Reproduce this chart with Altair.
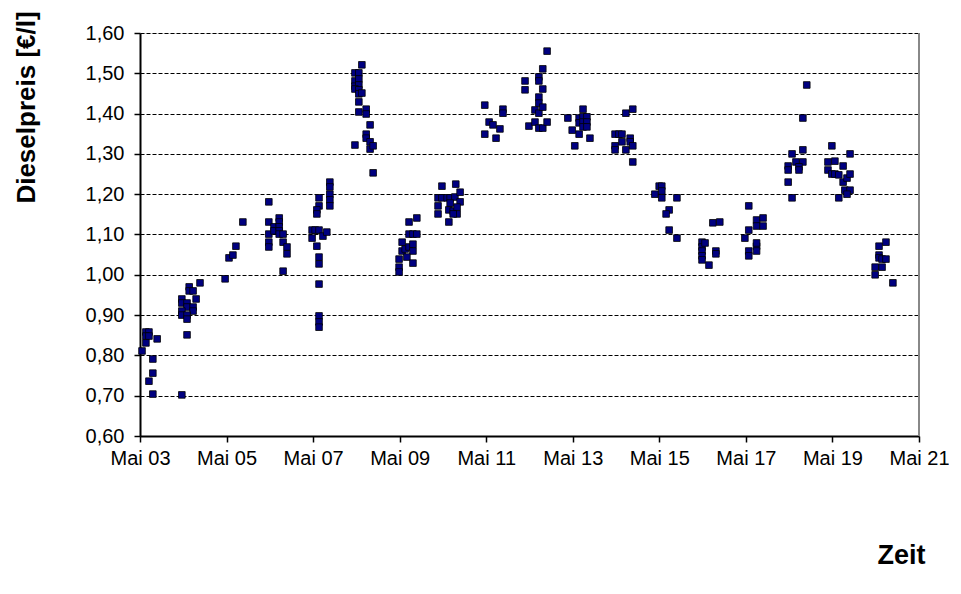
import altair as alt
import pandas as pd

# decimal year of each observation and its diesel price in EUR/l
year = [
    2003.38, 2003.47, 2003.54, 2003.47, 2003.54, 2003.73, 2003.47, 2003.63, 2003.63, 2003.54, 2003.63,
    2004.30, 2004.42, 2004.30, 2004.30, 2004.42, 2004.42, 2004.63, 2004.56, 2004.56, 2004.30, 2004.30,
    2004.42, 2004.42, 2004.47, 2004.47, 2004.56, 2004.72,
    2005.30, 2005.39, 2005.48, 2005.55, 2005.71,
    2006.31, 2006.31, 2006.31, 2006.31, 2006.31, 2006.43, 2006.43, 2006.55, 2006.55, 2006.55, 2006.55,
    2006.55, 2006.64, 2006.64, 2006.73, 2006.73, 2006.64,
    2007.47, 2007.47, 2007.42, 2007.42, 2007.31, 2007.38, 2007.47, 2007.31, 2007.56, 2007.65, 2007.42,
    2007.47, 2007.47, 2007.47, 2007.47, 2007.47, 2007.47, 2007.72, 2007.72, 2007.72, 2007.72, 2007.72,
    2008.46, 2008.30, 2008.39, 2008.30, 2008.39, 2008.30, 2008.39, 2008.30, 2008.39, 2008.39, 2008.46,
    2008.39, 2008.39, 2008.56, 2008.56, 2008.65, 2008.56, 2008.56, 2008.30, 2008.65, 2008.65, 2008.72,
    2008.72,
    2009.55, 2009.73, 2009.55, 2009.64, 2009.73, 2009.39, 2009.39, 2009.46, 2009.55, 2009.64, 2009.64,
    2009.50, 2009.32, 2009.64, 2009.32, 2009.32,
    2010.31, 2010.63, 2010.22, 2010.31, 2010.43, 2010.22, 2010.22, 2010.50, 2010.61, 2010.73, 2010.50,
    2010.73, 2010.47, 2010.57, 2010.66, 2010.66, 2010.57, 2010.47,
    2011.30, 2011.40, 2011.49, 2011.30, 2011.56, 2011.65, 2011.72, 2011.72,
    2012.23, 2012.23, 2012.32, 2012.55, 2012.55, 2012.64, 2012.74, 2012.64, 2012.55, 2012.55, 2012.46,
    2012.55, 2012.64, 2012.46, 2012.55, 2012.64, 2012.74,
    2013.22, 2013.32, 2013.38, 2013.48, 2013.48, 2013.48, 2013.57, 2013.57, 2013.66, 2013.57, 2013.66,
    2013.57, 2013.66, 2013.73,
    2014.31, 2014.40, 2014.47, 2014.31, 2014.31, 2014.47, 2014.56, 2014.66, 2014.66, 2014.72, 2014.56,
    2014.72, 2014.72,
    2015.33, 2015.39, 2015.39, 2015.23, 2015.39, 2015.74, 2015.56, 2015.49, 2015.56, 2015.74,
    2016.32, 2016.32, 2016.32, 2016.32, 2016.32, 2016.39, 2016.48, 2016.57, 2016.73, 2016.64, 2016.64,
    2017.40, 2017.58, 2017.58, 2017.40, 2017.31, 2017.40, 2017.40, 2017.58, 2017.58, 2017.73, 2017.73,
    2017.58,
    2018.74, 2018.65, 2018.65, 2018.40, 2018.31, 2018.31, 2018.49, 2018.65, 2018.56, 2018.56, 2018.31,
    2018.40,
    2019.32, 2019.74, 2019.23, 2019.39, 2019.23, 2019.32, 2019.39, 2019.48, 2019.58, 2019.58, 2019.67,
    2019.74, 2019.62, 2019.74, 2019.67, 2019.48,
    2020.41, 2020.57, 2020.41, 2020.41, 2020.48, 2020.57, 2020.32, 2020.48, 2020.32, 2020.73,
]
price = [
    0.811, 0.858, 0.858, 0.848, 0.848, 0.841, 0.831, 0.791, 0.756, 0.736, 0.704,
    0.702, 0.851, 0.940, 0.930, 0.930, 0.920, 0.940, 0.920, 0.910, 0.910, 0.900,
    0.900, 0.890, 0.970, 0.960, 0.960, 0.980,
    0.990, 1.042, 1.049, 1.071, 1.131,
    1.181, 1.131, 1.101, 1.081, 1.069, 1.119, 1.109, 1.141, 1.131, 1.119, 1.109,
    1.101, 1.101, 1.081, 1.069, 1.052, 1.009,
    1.191, 1.171, 1.161, 1.151, 1.111, 1.111, 1.111, 1.091, 1.096, 1.106, 1.071,
    1.044, 1.027, 0.977, 0.898, 0.883, 0.870, 1.230, 1.218, 1.200, 1.186, 1.171,
    1.521, 1.501, 1.501, 1.481, 1.486, 1.468, 1.471, 1.461, 1.459, 1.449, 1.451,
    1.429, 1.404, 1.411, 1.399, 1.372, 1.349, 1.339, 1.322, 1.330, 1.312, 1.320,
    1.253,
    1.131, 1.141, 1.101, 1.101, 1.101, 1.081, 1.059, 1.064, 1.069, 1.076, 1.059,
    1.044, 1.039, 1.029, 1.019, 1.007,
    1.220, 1.225, 1.191, 1.191, 1.191, 1.171, 1.151, 1.191, 1.193, 1.205, 1.178,
    1.181, 1.161, 1.158, 1.168, 1.151, 1.151, 1.131,
    1.421, 1.379, 1.372, 1.349, 1.339, 1.362, 1.411, 1.401,
    1.481, 1.459, 1.369, 1.491, 1.481, 1.511, 1.555, 1.461, 1.441, 1.426, 1.409,
    1.401, 1.416, 1.379, 1.364, 1.364, 1.379,
    1.389, 1.359, 1.320, 1.389, 1.377, 1.349, 1.411, 1.392, 1.392, 1.379, 1.379,
    1.367, 1.367, 1.339,
    1.349, 1.349, 1.349, 1.320, 1.310, 1.330, 1.310, 1.339, 1.330, 1.320, 1.401,
    1.411, 1.280,
    1.220, 1.220, 1.208, 1.200, 1.191, 1.191, 1.161, 1.151, 1.111, 1.091,
    1.081, 1.069, 1.059, 1.047, 1.037, 1.079, 1.024, 1.129, 1.131, 1.059, 1.052,
    1.171, 1.136, 1.121, 1.111, 1.091, 1.059, 1.047, 1.071, 1.059, 1.141, 1.121,
    1.079,
    1.471, 1.389, 1.310, 1.300, 1.270, 1.260, 1.280, 1.280, 1.268, 1.260, 1.230,
    1.191,
    1.320, 1.300, 1.280, 1.282, 1.260, 1.250, 1.250, 1.248, 1.270, 1.230, 1.240,
    1.250, 1.210, 1.210, 1.200, 1.191,
    1.071, 1.081, 1.049, 1.042, 1.039, 1.039, 1.019, 1.019, 1.000, 0.980,
]

x_ticks = [2003 + 4 / 12 + 2 * i for i in range(10)]
y_ticks = [0.6, 0.7, 0.8, 0.9, 1.0, 1.1, 1.2, 1.3, 1.4, 1.5, 1.6]

df = pd.DataFrame({"year": year, "price": price})

W, H = 779, 403
FONT = "Liberation Sans"

points = alt.Chart(df).mark_square(
    size=44, color="#000080", fill="#000080", stroke="#000000", strokeWidth=0.8, opacity=1
).encode(
    x=alt.X(
        "year:Q",
        scale=alt.Scale(domain=[x_ticks[0], x_ticks[-1]], nice=False, zero=False),
        axis=alt.Axis(
            values=x_ticks,
            labelExpr="'Mai ' + substring(toString(floor(datum.value + 0.01)), 2, 4)",
            grid=False, labelFlush=False, labelOverlap=False, labelBound=False,
            title="Zeit",
            titleFont=FONT, titleFontSize=27, titleFontWeight="bold", titleColor="#000",
            titleX=761, titleY=127, titleAlign="center", titleBaseline="alphabetic", titleAngle=0,
            labelFont=FONT, labelFontSize=20, labelColor="#000", labelPadding=6,
            tickColor="#000", tickSize=6, tickWidth=1.5,
            domainColor="#000", domainWidth=2,
        ),
    ),
    y=alt.Y(
        "price:Q",
        scale=alt.Scale(domain=[0.6, 1.6], nice=False, zero=False),
        axis=alt.Axis(
            values=y_ticks,
            labelExpr="replace(format(datum.value, '.2f'), '.', ',')",
            grid=True, gridColor="#000", gridDash=[4, 2], gridWidth=1,
            labelFlush=False, labelOverlap=False, labelBound=False,
            title="Dieselpreis [€/l]",
            titleFont=FONT, titleFontSize=26, titleFontWeight="bold", titleColor="#000",
            titleAngle=270, titleAlign="center", titleBaseline="middle",
            titleX=-114, titleY=74,
            labelFont=FONT, labelFontSize=20, labelColor="#000", labelPadding=10,
            tickColor="#000", tickSize=6, tickWidth=1.5,
            domainColor="#000", domainWidth=2,
        ),
    ),
)

border = alt.Chart(df).mark_rule(color="#888888", strokeWidth=1.5).encode(
    x=alt.value(W), y=alt.value(0), y2=alt.value(H)
)

chart = alt.layer(border, points).properties(
    width=W, height=H,
    autosize=alt.AutoSizeParams(type="none"),
    padding={"left": 132, "top": 25, "right": 30, "bottom": 145},
).configure_view(stroke=None).configure(background="white")

chart.save("out.html", embed_options={"renderer": "svg", "actions": False})
